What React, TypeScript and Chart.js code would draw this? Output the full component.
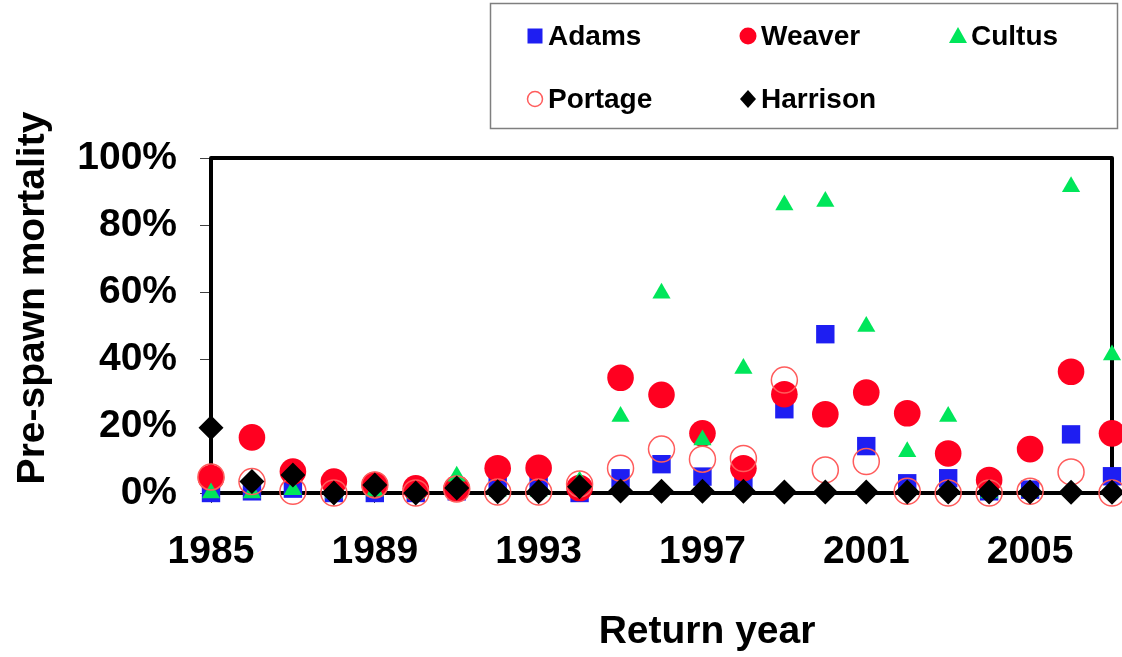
import React, { useEffect, useRef } from 'react';
import { Chart, registerables } from 'chart.js';

Chart.register(...registerables);

const years = [1985, 1986, 1987, 1988, 1989, 1990, 1991, 1992, 1993, 1994, 1995, 1996, 1997, 1998, 1999, 2000, 2001, 2002, 2003, 2004, 2005, 2006, 2007];
const adams = [0, 0.5, 1.3, 0, 0, 0, 0.5, 3, 3, 0, 4.4, 8.6, 4.9, 3.9, 25, 47.4, 14, 2.9, 4.4, 0.5, 1, 17.5, 5];
const weaver = [4.5, 16.6, 6.4, 3.4, 2.4, 1.4, 1.4, 7.4, 7.5, 1.5, 34.4, 29.3, 17.8, 7.4, 29.5, 23.5, 30, 23.8, 11.8, 3.9, 13.1, 36.2, 17.8];
const cultus = [0, 0, 1, 0, 0.5, 0, 5, 0.5, 0.5, 3.5, 22.8, 59.6, 15.8, 37.2, 86, 87, 49.7, 12.3, 22.8, 0, 0.5, 91.4, 41.2];
const portage = [4.8, 3.4, 0.5, 0, 2.4, 0, 1.2, 0.3, 0.3, 2.7, 7.4, 13.1, 10.1, 10.3, 33.7, 6.9, 9.4, 0.5, 0, 0, 0.5, 6.3, 0];
const harrison = [19.5, 3.4, 5.4, 0, 2.4, 0, 1.5, 0.4, 0.4, 1.9, 0.6, 0.5, 0.5, 0.5, 0.3, 0.3, 0.3, 0.3, 0.3, 0.3, 0.3, 0.2, 0.2];

const seriesNames = ['Adams', 'Weaver', 'Cultus', 'Portage', 'Harrison'];
const xTickValues = [1985, 1989, 1993, 1997, 2001, 2005];
const yTickValues = [0, 20, 40, 60, 80, 100];
const xRange = [1985, 2007];
const yRange = [0, 100];
const yTitle = 'Pre-spawn mortality';
const xTitle = 'Return year';

const FONT = '"Liberation Sans", Arial, Helvetica, sans-serif';
const BLUE = '#1E1EF2';
const RED = '#FF0020';
const GREEN = '#00E65A';
const PINK = '#FF5C5C';

const toPoints = (vals: number[]) => years.map((yr, i) => ({ x: yr, y: vals[i] }));

const legendLayout = [
  { x: 535, y: 36 },
  { x: 748, y: 36 },
  { x: 958, y: 36 },
  { x: 535, y: 99 },
  { x: 748, y: 99 },
];

function drawMarker(ctx: CanvasRenderingContext2D, idx: number, x: number, y: number) {
  ctx.save();
  ctx.beginPath();
  if (idx === 0) {
    ctx.fillStyle = BLUE;
    ctx.fillRect(x - 7.5, y - 7.5, 15, 15);
  } else if (idx === 1) {
    ctx.fillStyle = RED;
    ctx.arc(x, y, 8.5, 0, Math.PI * 2);
    ctx.fill();
  } else if (idx === 2) {
    ctx.fillStyle = GREEN;
    ctx.moveTo(x, y - 9);
    ctx.lineTo(x + 9, y + 7);
    ctx.lineTo(x - 9, y + 7);
    ctx.closePath();
    ctx.fill();
  } else if (idx === 3) {
    ctx.strokeStyle = PINK;
    ctx.lineWidth = 1.5;
    ctx.arc(x, y, 7.5, 0, Math.PI * 2);
    ctx.stroke();
  } else {
    ctx.fillStyle = '#000';
    ctx.moveTo(x, y - 9);
    ctx.lineTo(x + 8, y);
    ctx.lineTo(x, y + 9);
    ctx.lineTo(x - 8, y);
    ctx.closePath();
    ctx.fill();
  }
  ctx.restore();
}

const framePlugin = {
  id: 'frameAndExtras',
  beforeDatasetsDraw(chart: any) {
    const { ctx, chartArea } = chart;
    ctx.save();
    ctx.strokeStyle = '#000';
    ctx.lineWidth = 4;
    ctx.lineJoin = 'round';
    ctx.strokeRect(chartArea.left, chartArea.top, chartArea.right - chartArea.left, chartArea.bottom - chartArea.top);
    ctx.restore();
  },
  afterDraw(chart: any) {
    const { ctx } = chart;
    ctx.save();
    ctx.fillStyle = '#000';
    ctx.font = `bold 39px ${FONT}`;
    ctx.textAlign = 'center';
    ctx.textBaseline = 'middle';
    ctx.save();
    ctx.translate(33, 298);
    ctx.rotate(-Math.PI / 2);
    ctx.fillText(yTitle, 0, 0);
    ctx.restore();
    ctx.fillText(xTitle, 707, 632);

    ctx.strokeStyle = '#7f7f7f';
    ctx.lineWidth = 1.5;
    ctx.strokeRect(490.5, 3.5, 627, 125);
    ctx.font = `bold 28px ${FONT}`;
    ctx.textAlign = 'left';
    ctx.textBaseline = 'middle';
    seriesNames.forEach((name, i) => {
      const p = legendLayout[i];
      drawMarker(ctx, i, p.x, p.y);
      ctx.fillStyle = '#000';
      ctx.fillText(name, p.x + 13, p.y + 1);
    });
    ctx.restore();
  },
};

export default function App() {
  const ref = useRef<HTMLCanvasElement | null>(null);

  useEffect(() => {
    if (!ref.current) return;
    const chart = new Chart(ref.current, {
      type: 'scatter',
      data: {
        datasets: [
          {
            label: seriesNames[0],
            data: toPoints(adams),
            pointStyle: 'rect',
            pointRadius: 13,
            backgroundColor: BLUE,
            borderColor: BLUE,
            borderWidth: 0,
            order: 5,
            clip: false,
          },
          {
            label: seriesNames[1],
            data: toPoints(weaver),
            pointStyle: 'circle',
            pointRadius: 13.3,
            backgroundColor: RED,
            borderColor: RED,
            borderWidth: 0,
            order: 4,
            clip: false,
          },
          {
            label: seriesNames[2],
            data: toPoints(cultus),
            pointStyle: 'triangle',
            pointRadius: 10.5,
            backgroundColor: GREEN,
            borderColor: GREEN,
            borderWidth: 0,
            order: 3,
            clip: false,
          },
          {
            label: seriesNames[3],
            data: toPoints(portage),
            pointStyle: 'circle',
            pointRadius: 13,
            backgroundColor: 'rgba(0,0,0,0)',
            borderColor: PINK,
            borderWidth: 1.5,
            order: 2,
            clip: false,
          },
          {
            label: seriesNames[4],
            data: toPoints(harrison),
            pointStyle: 'rectRot',
            pointRadius: 12.5,
            backgroundColor: '#000',
            borderColor: '#000',
            borderWidth: 0,
            order: 1,
            clip: false,
          },
        ] as any,
      },
      options: {
        animation: false,
        responsive: false,
        devicePixelRatio: 1,
        events: [],
        layout: { autoPadding: false, padding: { top: 158, right: 10, left: 0, bottom: 0 } },
        plugins: {
          legend: { display: false },
          tooltip: { enabled: false },
          title: { display: false },
        },
        scales: {
          x: {
            type: 'linear',
            min: xRange[0],
            max: xRange[1],
            afterFit: (scale: any) => {
              scale.height = 164;
              scale.paddingLeft = 0;
              scale.paddingRight = 0;
            },
            afterBuildTicks: (scale: any) => {
              scale.ticks = xTickValues.map((v) => ({ value: v }));
            },
            ticks: {
              color: '#000',
              font: { family: FONT, size: 39, weight: 'bold' },
              padding: 26,
              maxRotation: 0,
              autoSkip: false,
              callback: (v: any) => String(v),
            },
            grid: {
              display: true,
              drawOnChartArea: false,
              drawTicks: true,
              tickLength: 10,
              tickColor: '#404040',
              tickWidth: 1,
            },
            border: { display: false },
          },
          y: {
            type: 'linear',
            min: yRange[0],
            max: yRange[1],
            afterFit: (scale: any) => {
              scale.width = 211;
              scale.paddingTop = 0;
              scale.paddingBottom = 0;
            },
            afterBuildTicks: (scale: any) => {
              scale.ticks = yTickValues.map((v) => ({ value: v }));
            },
            ticks: {
              color: '#000',
              font: { family: FONT, size: 39, weight: 'bold' },
              padding: 23,
              callback: (v: any) => `${v}%`,
            },
            grid: {
              display: true,
              drawOnChartArea: false,
              drawTicks: true,
              tickLength: 11,
              tickColor: '#404040',
              tickWidth: 1,
            },
            border: { display: false },
          },
        },
      } as any,
      plugins: [framePlugin],
    });
    return () => chart.destroy();
  }, []);

  return (
    <div style={{ position: 'fixed', left: 0, top: 0, width: 1122, height: 657, background: '#fff' }}>
      <canvas ref={ref} width={1122} height={657} style={{ display: 'block', width: 1122, height: 657 }} />
    </div>
  );
}
